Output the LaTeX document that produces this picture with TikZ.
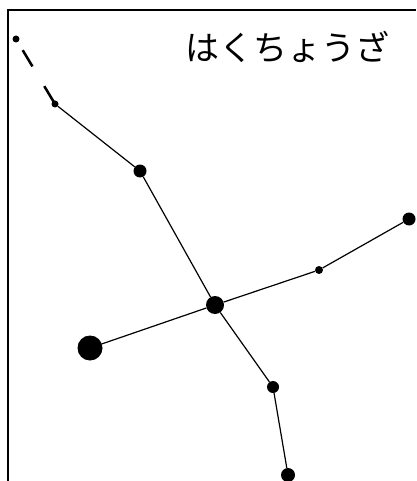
\documentclass[tikz,border=0pt]{standalone}
\usepackage{fontspec}
\newfontfamily\jpfont{Noto Sans CJK JP}
\usepackage{xcolor}
\usepackage{tikz}
\usetikzlibrary{positioning}
\definecolor{starblack}{HTML}{000000}

\begin{document}
\begin{tikzpicture}[x=1pt,y=-1pt,
    star/.style={circle,fill=starblack,inner sep=0pt},
    link/.style={draw=starblack,line width=1.2pt}]

      \useasboundingbox (0,0) rectangle (416,481);

      % frame
      \draw[line width=2pt] (8,481) -- (8,10) -- (416,10);

      % title
      \node[font=\jpfont\fontsize{34}{36}\selectfont] (title) at (287,47) {はくちょうざ};

      % stars
      \node[star,minimum size=7pt]  (s1) at (16,39) {};
      \node[star,minimum size=7pt]  (s2) at (55,104) {};
      \node[star,minimum size=13pt] (s3) at (140,171) {};
      \node[star,minimum size=18pt] (s4) at (215,305) {};
      \node[star,minimum size=25pt] (s5) at (90,348) {};
      \node[star,minimum size=8pt]  (s6) at (319,270) {};
      \node[star,minimum size=13pt] (s7) at (409,219) {};
      \node[star,minimum size=12pt] (s8) at (273,387) {};
      \node[star,minimum size=14pt] (s9) at (288,475) {};

      % lines
      \draw[line width=2.5pt,dash pattern=on 19pt off 23pt,dash phase=29pt] (s1.center) -- (s2.center);
      \draw[link] (s2) -- (s3);
      \draw[link] (s3) -- (s4);
      \draw[link] (s4) -- (s5);
      \draw[link] (s4) -- (s6);
      \draw[link] (s6) -- (s7);
      \draw[link] (s4) -- (s8);
      \draw[link] (s8) -- (s9);

\end{tikzpicture}
\end{document}
